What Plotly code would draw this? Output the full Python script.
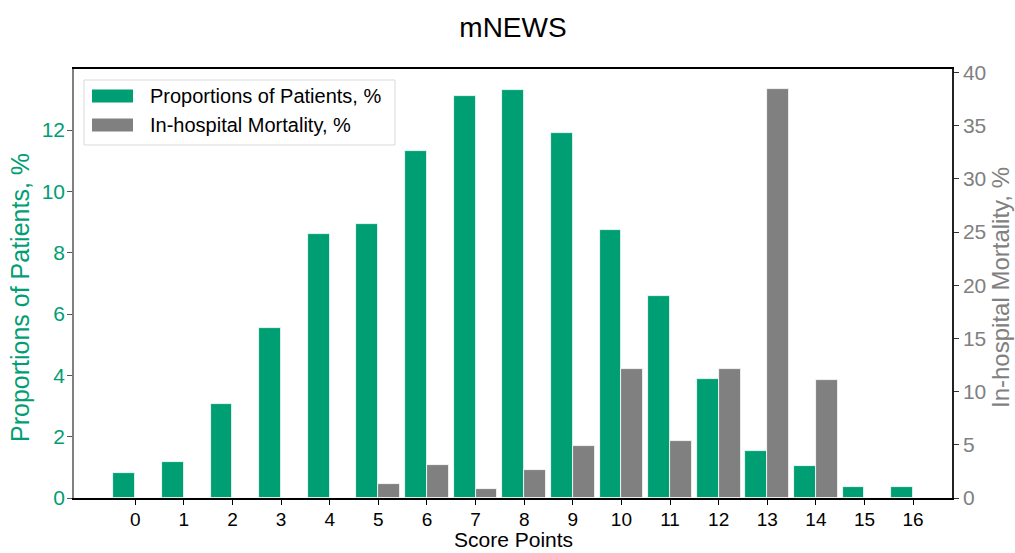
import plotly.graph_objects as go

scores = list(range(17))
patients_pct = [0.82, 1.17, 3.05, 5.53, 8.61, 8.95, 11.31, 13.10, 13.32, 11.90,
                8.73, 6.58, 3.87, 1.53, 1.04, 0.35, 0.35]
mortality_pct = [0, 0, 0, 0, 0, 1.29, 3.11, 0.88, 2.61, 4.93,
                 12.15, 5.34, 12.09, 38.40, 11.08, 0, 0]
x_ticks = list(range(17))
left_ticks = [0, 2, 4, 6, 8, 10, 12]
right_ticks = [0, 5, 10, 15, 20, 25, 30, 35, 40]

GREEN = "#009E73"
GRAY = "#808080"
FONT = "Liberation Sans, Arial, sans-serif"

W, H = 1015, 553
L, R, T, B = 74, 952, 69, 498

fig = go.Figure()
fig.add_trace(go.Bar(x=scores, y=patients_pct, width=0.45, offset=-0.45,
                     marker=dict(color=GREEN, line=dict(color="white", width=0.8)),
                     name="Proportions of Patients, %", yaxis="y", showlegend=False))
fig.add_trace(go.Bar(x=scores, y=mortality_pct, width=0.45, offset=0.0,
                     marker=dict(color=GRAY, line=dict(color="white", width=0.8)),
                     name="In-hospital Mortality, %", yaxis="y2", showlegend=False))

def px2x(px):
    return (px - L) / (R - L)

def px2y(py):
    return (B - py) / (B - T)

shapes = []
annotations = []
# legend box
shapes.append(dict(type="rect", xref="paper", yref="paper",
                   x0=px2x(84), x1=px2x(395), y0=px2y(145), y1=px2y(80),
                   line=dict(color="#d9d9d9", width=1), fillcolor="rgba(255,255,255,0.8)",
                   layer="above"))
legend_items = [("Proportions of Patients, %", GREEN, 96), ("In-hospital Mortality, %", GRAY, 125)]
for label, col, cy in legend_items:
    shapes.append(dict(type="rect", xref="paper", yref="paper",
                       x0=px2x(92), x1=px2x(133), y0=px2y(cy + 6.5), y1=px2y(cy - 6.5),
                       line=dict(width=0), fillcolor=col, layer="above"))
    annotations.append(dict(text=label, xref="paper", yref="paper", x=px2x(148), y=px2y(cy),
                            xanchor="left", yanchor="middle", showarrow=False,
                            font=dict(family=FONT, size=20, color="#000000")))

# axis titles as annotations for exact placement
annotations.append(dict(text="Score Points", xref="paper", yref="paper", x=0.5, y=px2y(539),
                        xanchor="center", yanchor="middle", showarrow=False,
                        font=dict(family=FONT, size=21, color="#000000")))
annotations.append(dict(text="Proportions of Patients, %", xref="paper", yref="paper",
                        x=px2x(20), y=px2y(298), xanchor="center", yanchor="middle",
                        textangle=-90, showarrow=False,
                        font=dict(family=FONT, size=25, color=GREEN)))
annotations.append(dict(text="In-hospital Mortality, %", xref="paper", yref="paper",
                        x=px2x(1000), y=px2y(288), xanchor="center", yanchor="middle",
                        textangle=-90, showarrow=False,
                        font=dict(family=FONT, size=24, color=GRAY)))

fig.update_layout(
    width=W, height=H,
    margin=dict(l=L, r=W - R, t=T, b=H - B),
    plot_bgcolor="white", paper_bgcolor="white",
    barmode="overlay", bargap=0,
    title=dict(text="mNEWS", x=(L + R) / 2 / W, xanchor="center", y=1 - 27 / H, yanchor="middle",
               font=dict(family=FONT, size=28, color="#000000")),
    font=dict(family=FONT, size=18, color="#000000"),
    xaxis=dict(range=[-1.26, 16.80], tickmode="array", tickvals=x_ticks,
               ticktext=[str(t) for t in x_ticks], ticks="outside", ticklen=5, tickwidth=1,
               tickcolor="#000000", showline=True, linecolor="#000000", linewidth=1.5,
               mirror=True, showgrid=False, zeroline=False, automargin=False,
               ticklabelstandoff=-2,
               tickfont=dict(family=FONT, size=19, color="#000000")),
    yaxis=dict(range=[0, 13.99], tickmode="array", tickvals=left_ticks, ticks="outside",
               ticklen=5, tickwidth=1, tickcolor="#555555", showline=True, linecolor=GRAY,
               linewidth=1.5, showgrid=False, zeroline=False, automargin=False,
               ticklabelstandoff=-2,
               tickfont=dict(family=FONT, size=21, color=GREEN)),
    yaxis2=dict(range=[0, 40.32], overlaying="y", side="right", tickmode="array",
                tickvals=right_ticks, ticks="outside", ticklen=5, tickwidth=1,
                tickcolor="#333333", showline=True, linecolor="#222222", linewidth=1.5,
                showgrid=False, zeroline=False, automargin=False,
                tickfont=dict(family=FONT, size=21, color=GRAY)),
    shapes=shapes, annotations=annotations,
)

fig.write_html("out.html")
